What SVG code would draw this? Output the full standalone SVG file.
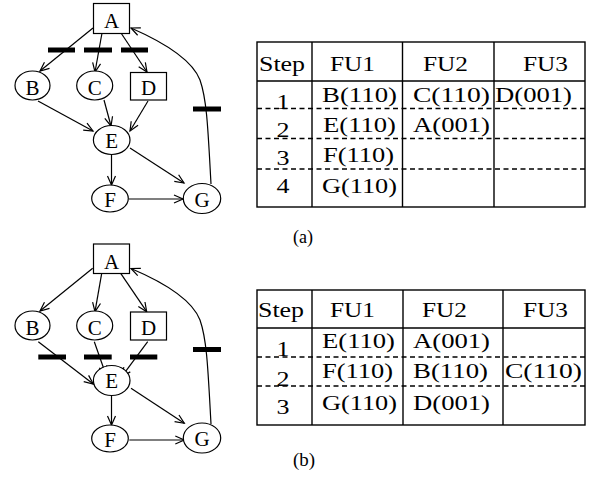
<svg xmlns="http://www.w3.org/2000/svg" width="591" height="484" viewBox="0 0 591 484">
<defs>
<style>
.nd{fill:#fff;stroke:#000;stroke-width:1.2}
.lb{font-family:"Liberation Serif","Times New Roman",serif;font-size:21px;fill:#000;text-anchor:middle}
.ed{fill:none;stroke:#000;stroke-width:1.2;marker-end:url(#ah)}
.bar{stroke:#000;stroke-width:5}
.tl{stroke:#000;stroke-width:1.4;fill:none}
.td{stroke:#000;stroke-width:1.3;stroke-dasharray:5 3.5;fill:none}
.tt{font-family:"Liberation Serif","Times New Roman",serif;font-size:20px;fill:#000}
.cap{font-family:"Liberation Serif","Times New Roman",serif;font-size:19px;fill:#000}
</style>
<marker id="ah" markerUnits="userSpaceOnUse" markerWidth="12" markerHeight="10" refX="9" refY="4" orient="auto" viewBox="0 0 12 10" overflow="visible">
<path d="M0,0 L9,4 L0,8" fill="none" stroke="#000" stroke-width="1.2"/>
</marker>
</defs>
<rect width="591" height="484" fill="#fff"/>

<!-- Graph (a) -->
<g id="graph-a">
<g id="a-edges">
<line class="ed" x1="93" y1="28" x2="40" y2="71"/>
<line class="ed" x1="102" y1="33" x2="95" y2="72"/>
<line class="ed" x1="121" y1="33" x2="147" y2="72"/>
<line class="ed" x1="38" y1="101" x2="93" y2="131"/>
<line class="ed" x1="104" y1="100" x2="111" y2="126"/>
<line class="ed" x1="148" y1="101" x2="130" y2="131"/>
<line class="ed" x1="111.5" y1="155" x2="111.5" y2="185"/>
<line class="ed" x1="130" y1="148" x2="184" y2="183"/>
<line class="ed" x1="129" y1="199" x2="183" y2="199"/>
<path class="ed" d="M211,184 C208,130 207,100 200,80 C193,62 170,45 131,28"/>
<line class="bar" x1="48" y1="50" x2="75" y2="50"/>
<line class="bar" x1="84" y1="50" x2="112" y2="50"/>
<line class="bar" x1="121" y1="50" x2="148" y2="50"/>
<line class="bar" x1="193" y1="109" x2="221" y2="109"/>
</g>
<g id="a-A"><rect class="nd" x="93.5" y="3.5" width="36" height="30"/><text class="lb" x="111.5" y="28">A</text></g>
<g id="a-B"><ellipse class="nd" cx="32.5" cy="85.5" rx="17.5" ry="14.5"/><text class="lb" x="32.5" y="94.5">B</text></g>
<g id="a-C"><ellipse class="nd" cx="94.7" cy="85.5" rx="18" ry="14.5"/><text class="lb" x="94.7" y="94.5">C</text></g>
<g id="a-D"><rect class="nd" x="130.5" y="72.5" width="36" height="27.5"/><text class="lb" x="148.5" y="94.5">D</text></g>
<g id="a-E"><ellipse class="nd" cx="111.7" cy="140" rx="18.3" ry="14.5"/><text class="lb" x="111.7" y="147.5">E</text></g>
<g id="a-F"><ellipse class="nd" cx="110" cy="198.5" rx="18.3" ry="13.5"/><text class="lb" x="110" y="206.5">F</text></g>
<g id="a-G"><ellipse class="nd" cx="202" cy="198.5" rx="18.7" ry="15"/><text class="lb" x="202" y="206.5">G</text></g>
</g>

<!-- Graph (b) -->
<g id="graph-b">
<g id="b-edges">
<line class="ed" x1="92.7" y1="268.3" x2="40" y2="311"/>
<line class="ed" x1="101.7" y1="273.3" x2="95" y2="311.7"/>
<line class="ed" x1="120.7" y1="273.3" x2="146.7" y2="311.7"/>
<line class="ed" x1="38.3" y1="341.7" x2="93.3" y2="384"/>
<line class="ed" x1="94.3" y1="341.7" x2="106" y2="375"/>
<line class="ed" x1="147.7" y1="341.7" x2="121.7" y2="376.7"/>
<line class="ed" x1="111.5" y1="396" x2="111.5" y2="425"/>
<line class="ed" x1="131" y1="388.3" x2="184.3" y2="423.3"/>
<line class="ed" x1="129.3" y1="440" x2="184.3" y2="440"/>
<path class="ed" d="M211,424 C208,370 207,340 200,320 C193,302 170,285 131,268.5"/>
<line class="bar" x1="38.3" y1="357" x2="66" y2="357"/>
<line class="bar" x1="84" y1="357" x2="111.7" y2="357"/>
<line class="bar" x1="130" y1="357" x2="157.3" y2="357"/>
<line class="bar" x1="193" y1="349.5" x2="221" y2="349.5"/>
</g>
<g id="b-A"><rect class="nd" x="93.5" y="244" width="36" height="29.5"/><text class="lb" x="111.5" y="268.5">A</text></g>
<g id="b-B"><ellipse class="nd" cx="32.5" cy="325.5" rx="17.5" ry="14.5"/><text class="lb" x="32.5" y="334.5">B</text></g>
<g id="b-C"><ellipse class="nd" cx="94.7" cy="325.5" rx="18" ry="14.5"/><text class="lb" x="94.7" y="334.5">C</text></g>
<g id="b-D"><rect class="nd" x="130.5" y="312" width="36" height="28"/><text class="lb" x="148.5" y="334.5">D</text></g>
<g id="b-E"><ellipse class="nd" cx="111.7" cy="380.5" rx="18.3" ry="15"/><text class="lb" x="111.7" y="388">E</text></g>
<g id="b-F"><ellipse class="nd" cx="110" cy="438.5" rx="18.3" ry="13.5"/><text class="lb" x="110" y="446.5">F</text></g>
<g id="b-G"><ellipse class="nd" cx="202" cy="438" rx="18.7" ry="15"/><text class="lb" x="202" y="446">G</text></g>
</g>

<!-- Table (a) -->
<g id="table-a">
<rect class="tl" x="257" y="42" width="328" height="165"/>
<line class="tl" x1="257" y1="81" x2="585" y2="81"/>
<line class="tl" x1="312" y1="42" x2="312" y2="207"/>
<line class="tl" x1="402.5" y1="42" x2="402.5" y2="207"/>
<line class="tl" x1="494" y1="42" x2="494" y2="207"/>
<line class="td" x1="257" y1="108.5" x2="585" y2="108.5"/>
<line class="td" x1="257" y1="138.5" x2="585" y2="138.5"/>
<line class="td" x1="257" y1="169" x2="585" y2="169"/>
<text class="tt" x="259" y="71" textLength="46" lengthAdjust="spacingAndGlyphs">Step</text>
<text class="tt" x="330" y="71" textLength="45" lengthAdjust="spacingAndGlyphs">FU1</text>
<text class="tt" x="423" y="71" textLength="45" lengthAdjust="spacingAndGlyphs">FU2</text>
<text class="tt" x="523" y="71" textLength="45" lengthAdjust="spacingAndGlyphs">FU3</text>
<text class="tt" x="276.5" y="109" textLength="13" lengthAdjust="spacingAndGlyphs">1</text>
<text class="tt" x="276.5" y="137" textLength="13" lengthAdjust="spacingAndGlyphs">2</text>
<text class="tt" x="276.5" y="165" textLength="13" lengthAdjust="spacingAndGlyphs">3</text>
<text class="tt" x="276.5" y="193" textLength="13" lengthAdjust="spacingAndGlyphs">4</text>
<text class="tt" x="322" y="102" textLength="75" lengthAdjust="spacingAndGlyphs">B(110)</text>
<text class="tt" x="413" y="102" textLength="77" lengthAdjust="spacingAndGlyphs">C(110)</text>
<text class="tt" x="495" y="102" textLength="77" lengthAdjust="spacingAndGlyphs">D(001)</text>
<text class="tt" x="323" y="132" textLength="73" lengthAdjust="spacingAndGlyphs">E(110)</text>
<text class="tt" x="413" y="132" textLength="77" lengthAdjust="spacingAndGlyphs">A(001)</text>
<text class="tt" x="323" y="162" textLength="71" lengthAdjust="spacingAndGlyphs">F(110)</text>
<text class="tt" x="322" y="193" textLength="75" lengthAdjust="spacingAndGlyphs">G(110)</text>
</g>
<text id="cap-a" class="cap" x="293" y="243" textLength="20" lengthAdjust="spacingAndGlyphs">(a)</text>

<!-- Table (b) -->
<g id="table-b">
<rect class="tl" x="257" y="290" width="328" height="135"/>
<line class="tl" x1="257" y1="328" x2="585" y2="328"/>
<line class="tl" x1="312" y1="290" x2="312" y2="425"/>
<line class="tl" x1="403" y1="290" x2="403" y2="425"/>
<line class="tl" x1="503" y1="290" x2="503" y2="425"/>
<line class="td" x1="257" y1="357" x2="585" y2="357"/>
<line class="td" x1="257" y1="386" x2="585" y2="386"/>
<text class="tt" x="258" y="317" textLength="46" lengthAdjust="spacingAndGlyphs">Step</text>
<text class="tt" x="330" y="317" textLength="45" lengthAdjust="spacingAndGlyphs">FU1</text>
<text class="tt" x="422" y="317" textLength="45" lengthAdjust="spacingAndGlyphs">FU2</text>
<text class="tt" x="523" y="317" textLength="45" lengthAdjust="spacingAndGlyphs">FU3</text>
<text class="tt" x="276.5" y="356" textLength="13" lengthAdjust="spacingAndGlyphs">1</text>
<text class="tt" x="276.5" y="386" textLength="13" lengthAdjust="spacingAndGlyphs">2</text>
<text class="tt" x="276.5" y="414" textLength="13" lengthAdjust="spacingAndGlyphs">3</text>
<text class="tt" x="322" y="348" textLength="73" lengthAdjust="spacingAndGlyphs">E(110)</text>
<text class="tt" x="413" y="348" textLength="77" lengthAdjust="spacingAndGlyphs">A(001)</text>
<text class="tt" x="322" y="378" textLength="71" lengthAdjust="spacingAndGlyphs">F(110)</text>
<text class="tt" x="413" y="378" textLength="75" lengthAdjust="spacingAndGlyphs">B(110)</text>
<text class="tt" x="505" y="378" textLength="77" lengthAdjust="spacingAndGlyphs">C(110)</text>
<text class="tt" x="322" y="410" textLength="75" lengthAdjust="spacingAndGlyphs">G(110)</text>
<text class="tt" x="413" y="410" textLength="77" lengthAdjust="spacingAndGlyphs">D(001)</text>
</g>
<text id="cap-b" class="cap" x="293" y="466" textLength="22" lengthAdjust="spacingAndGlyphs">(b)</text>
</svg>
